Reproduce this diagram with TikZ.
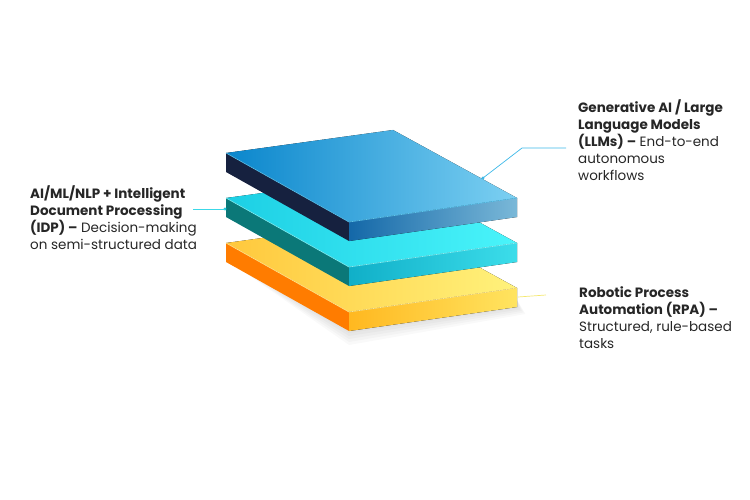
\documentclass[tikz,border=0pt]{standalone}
\usepackage{fontspec}
\setmainfont{Poppins}
\definecolor{oA}{HTML}{FFC83C}\definecolor{oB}{HTML}{FFF27C}\definecolor{oC}{HTML}{FF7C00}
\definecolor{oD}{HTML}{FFB820}\definecolor{oE}{HTML}{FFE460}\definecolor{oF}{HTML}{FFE890}
\definecolor{cA}{HTML}{1CCFE4}\definecolor{cB}{HTML}{4AF4FA}\definecolor{cC}{HTML}{0B7878}
\definecolor{cD}{HTML}{10AFC8}\definecolor{cE}{HTML}{3CDDEA}\definecolor{cF}{HTML}{7FF2F8}
\definecolor{bA}{HTML}{0A86CC}\definecolor{bB}{HTML}{7CD0F2}\definecolor{bC}{HTML}{16213F}
\definecolor{bD}{HTML}{1468A8}\definecolor{bE}{HTML}{7AB8D8}\definecolor{bF}{HTML}{5CC4EE}
\definecolor{lnT}{HTML}{3CB8E8}\definecolor{lnL}{HTML}{3CD8E8}\definecolor{lnB}{HTML}{F4E870}
\definecolor{dotL}{HTML}{20C8DC}
\begin{document}
\begin{tikzpicture}[x=1pt,y=-1pt,
  lbl/.style={anchor=north west,align=left,inner sep=0pt,font=\fontsize{13.5}{17}\selectfont,text=black!85},
  dotc/.style={circle,inner sep=0pt,minimum size=3.2pt}]
\useasboundingbox (0,0) rectangle (750,500);
\newcommand\slab[7]{%
 \begin{scope}[yshift=-#1]
 \fill[left color=#2,right color=#3] (226,153)--(393,130)--(517,198)--(349,222)--cycle;
 \fill[#4] (226,153)--(349,222)--(349,241)--(226,172)--cycle;
 \fill[left color=#5,right color=#6] (349,222)--(517,198)--(517,217)--(349,241)--cycle;
 \draw[#7,line width=0.6pt] (226,153)--(349,222)--(517,198);
 \end{scope}}
\foreach \s in {14,11,8,5,2}
  \fill[black,opacity=0.025] (230,262)--(349,331+\s)--(517+\s*0.6,307+\s*0.5)--(517,300)--cycle;
\slab{90pt}{oA}{oB}{oC}{oD}{oE}{oF}
\slab{45pt}{cA}{cB}{cC}{cD}{cE}{cF}
\slab{0pt}{bA}{bB}{bC}{bD}{bE}{bF}
\coordinate (t1) at (522,148); \coordinate (t2) at (566,148);
\node[dotc,fill=lnT] (td) at (483,178) {};
\draw[lnT,line width=0.7pt] (td.center)--(t1)--(t2);
\coordinate (l1) at (193,209);
\node[dotc,fill=dotL] (ld) at (225,209) {};
\draw[lnL,line width=0.7pt] (l1)--(ld.center);
\coordinate (b1) at (518,297); \coordinate (b2) at (546,295);
\draw[lnB,line width=0.7pt] (b1)--(b2);
\node[lbl] (gen) at (578,99) {\textbf{Generative AI / Large}\\\textbf{Language Models}\\\textbf{(LLMs) –} End-to-end\\autonomous\\workflows};
\node[lbl] (aiml) at (30,185) {\textbf{AI/ML/NLP + Intelligent}\\\textbf{Document Processing}\\\textbf{(IDP) –} Decision-making\\on semi-structured data};
\node[lbl] (rpa) at (579,286) {\textbf{Robotic Process}\\\textbf{Automation (RPA) –}\\Structured, rule-based\\tasks};
\end{tikzpicture}
\end{document}
